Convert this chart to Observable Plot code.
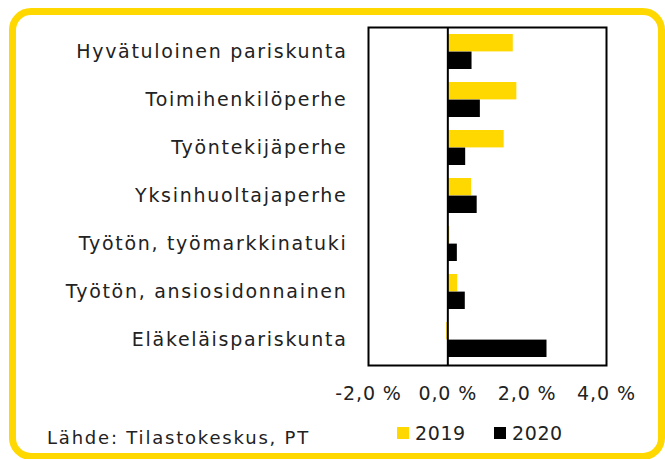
<!DOCTYPE html>
<html><head><meta charset="utf-8">
<script src="https://cdn.jsdelivr.net/npm/d3@7"></script>
<script src="https://cdn.jsdelivr.net/npm/@observablehq/plot@0.6"></script>
<style>
body{margin:0;background:#fff;width:665px;height:459px;overflow:hidden;position:relative;font-family:"DejaVu Sans",sans-serif;color:#222}
#frame{position:absolute;left:9px;top:8px;width:656px;height:452px;box-sizing:border-box;border:7px solid #FFD800;border-radius:22px}
#chart{position:absolute;left:0;top:0}
.leg{position:absolute;top:422px;font-size:19px;letter-spacing:0.6px;display:flex;align-items:center}
.sw{display:inline-block;width:12px;height:12px;margin-right:6px}
#src{position:absolute;left:47px;top:427px;font-size:18px;letter-spacing:1.8px}
svg g[aria-label="y-axis tick label"] text{letter-spacing:1.7px}
svg g[aria-label="x-axis tick label"] text{letter-spacing:0.9px}
</style></head>
<body>
<div id="frame"></div>
<div id="chart"></div>
<div class="leg" style="left:397px"><span class="sw" style="background:#FFD800"></span>2019</div>
<div class="leg" style="left:494px"><span class="sw" style="background:#000"></span>2020</div>
<div id="src">Lähde: Tilastokeskus, PT</div>
<script>
const categories = ["Hyvätuloinen pariskunta","Toimihenkilöperhe","Työntekijäperhe","Yksinhuoltajaperhe","Työtön, työmarkkinatuki","Työtön, ansiosidonnainen","Eläkeläispariskunta"];
const v2019 = [1.65,1.74,1.42,0.60,0.05,0.25,-0.03];
const v2020 = [0.61,0.82,0.45,0.74,0.24,0.44,2.50];
const xTicks = [-2,0,2,4];

const d19 = categories.map((c,i)=>({c, v:v2019[i]}));
const d20 = categories.map((c,i)=>({c, v:v2020[i]}));
const half = 17.6;
const fmt = d => d.toFixed(1).replace(".", ",") + " %";

const plot = Plot.plot({
  width: 665, height: 410,
  marginLeft: 368, marginRight: 59, marginTop: 27, marginBottom: 45,
  style: {fontFamily: '"DejaVu Sans", sans-serif', fontSize: "19px", color: "#222", background: "transparent"},
  x: {domain: [-2,4], ticks: xTicks, tickFormat: fmt, label: null},
  y: {domain: categories, paddingInner: 0.27, paddingOuter: 0.135, label: null},
  marks: [
    Plot.barX(d19, {x: "v", y: "c", fill: "#FFD800", insetBottom: half}),
    Plot.barX(d20, {x: "v", y: "c", fill: "#000", insetTop: half}),
    Plot.ruleX([0], {stroke: "#000", strokeWidth: 2}),
    Plot.frame({stroke: "#000", strokeWidth: 2}),
    Plot.axisX({ticks: xTicks, tickFormat: fmt, tickSize: 0, tickPadding: 21, fontSize: 19}),
    Plot.axisY({tickSize: 0, tickPadding: 21, fontSize: 19})
  ]
});
document.getElementById("chart").appendChild(plot);
</script>
</body></html>
